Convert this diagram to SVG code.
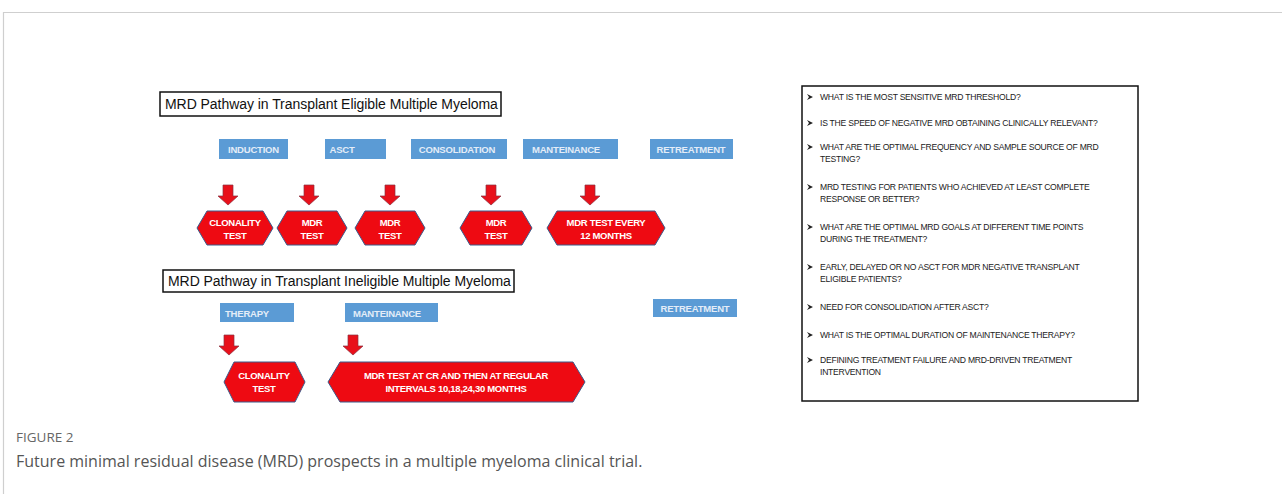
<svg xmlns="http://www.w3.org/2000/svg" width="1282" height="494" viewBox="0 0 1282 494">
<defs>
<style>
.frame{fill:none;stroke:#cfcfcf;stroke-width:1.2}
.title{fill:#fff;stroke:#111;stroke-width:1.5}
.titletext{font-family:"Liberation Sans",Arial,sans-serif;font-size:14px;fill:#111;letter-spacing:-0.05px}
.phase{fill:#5b9bd5}
.phasetext{font-family:"Liberation Sans",Arial,sans-serif;font-size:9.5px;font-weight:bold;fill:#e4edf8;text-anchor:middle;letter-spacing:-0.2px}
.hex{fill:#ee0a12;stroke:#3c5a8a;stroke-width:1}
.hextext{font-family:"Liberation Sans",Arial,sans-serif;font-size:9.5px;font-weight:bold;fill:#fff;text-anchor:middle;letter-spacing:-0.3px}
.arrow{fill:#e8101a;stroke:#8a3040;stroke-width:0.7}
.qbox{fill:#fff;stroke:#111;stroke-width:1.5}
.q{font-family:"Liberation Sans",Arial,sans-serif;font-size:8.6px;fill:#222;letter-spacing:-0.25px}
.bul{fill:#222}
.caplabel{font-family:"Open Sans","Liberation Sans",sans-serif;font-size:13.5px;fill:#666}
.cap{font-family:"Open Sans","Liberation Sans",sans-serif;font-size:16px;fill:#555}
</style>
<path id="arr" d="M-5,0 H5 V11 H10 L0,20 L-10,11 H-5 Z"/>
<path id="bullet" d="M0,-3 L6,0 L0,3 L2,0 Z"/>
</defs>
<rect width="1282" height="494" fill="#fff"/>
<path class="frame" d="M3.5,494 V12.5 H1282"/>

<g id="title-eligible">
<rect class="title" x="160" y="92" width="341" height="24"/>
<text class="titletext" x="165" y="109">MRD Pathway in Transplant Eligible Multiple Myeloma</text>
</g>
<g id="phase-induction"><rect class="phase" x="219" y="139" width="69" height="20"/><text class="phasetext" x="253.5" y="153">INDUCTION</text></g>
<g id="phase-asct"><rect class="phase" x="325" y="139" width="61" height="20"/><text class="phasetext" x="342" y="153">ASCT</text></g>
<g id="phase-consolidation"><rect class="phase" x="411" y="139" width="96" height="20"/><text class="phasetext" x="457" y="153">CONSOLIDATION</text></g>
<g id="phase-manteinance-1"><rect class="phase" x="523" y="139" width="95" height="20"/><text class="phasetext" x="566" y="153">MANTEINANCE</text></g>
<g id="phase-retreatment-1"><rect class="phase" x="650" y="139" width="83" height="20"/><text class="phasetext" x="691" y="153">RETREATMENT</text></g>

<g id="connectors">
<use href="#arr" class="arrow" x="228" y="185"/>
<use href="#arr" class="arrow" x="309" y="185"/>
<use href="#arr" class="arrow" x="390" y="185"/>
<use href="#arr" class="arrow" x="491" y="185"/>
<use href="#arr" class="arrow" x="590" y="185"/>
<use href="#arr" class="arrow" x="229" y="335"/>
<use href="#arr" class="arrow" x="353" y="335"/>
</g>

<g id="test-clonality-1"><path class="hex" d="M207,211 H263 L273,228 L263,245 H207 L197,228 Z"/><text class="hextext" x="235" y="226">CLONALITY</text><text class="hextext" x="235" y="239">TEST</text></g>
<g id="test-mdr-1"><path class="hex" d="M287,211 H337 L347,228 L337,245 H287 L277,228 Z"/><text class="hextext" x="312" y="226">MDR</text><text class="hextext" x="312" y="239">TEST</text></g>
<g id="test-mdr-2"><path class="hex" d="M365,211 H415 L425,228 L415,245 H365 L355,228 Z"/><text class="hextext" x="390" y="226">MDR</text><text class="hextext" x="390" y="239">TEST</text></g>
<g id="test-mdr-3"><path class="hex" d="M470,211 H522 L532,228 L522,245 H470 L460,228 Z"/><text class="hextext" x="496" y="226">MDR</text><text class="hextext" x="496" y="239">TEST</text></g>
<g id="test-mdr-every"><path class="hex" d="M557,211 H655 L665,228 L655,245 H557 L547,228 Z"/><text class="hextext" x="606" y="226">MDR TEST EVERY</text><text class="hextext" x="606" y="239">12 MONTHS</text></g>

<g id="title-ineligible">
<rect class="title" x="163" y="270" width="351" height="22"/>
<text class="titletext" x="168" y="286">MRD Pathway in Transplant Ineligible Multiple Myeloma</text>
</g>
<g id="phase-therapy"><rect class="phase" x="220" y="303" width="74" height="19"/><text class="phasetext" x="247" y="316.5">THERAPY</text></g>
<g id="phase-manteinance-2"><rect class="phase" x="345" y="303" width="93" height="19"/><text class="phasetext" x="387" y="316.5">MANTEINANCE</text></g>
<g id="phase-retreatment-2"><rect class="phase" x="653" y="299" width="84" height="18"/><text class="phasetext" x="695" y="312">RETREATMENT</text></g>

<g id="test-clonality-2"><path class="hex" d="M234,362 H295 L305,382 L295,402 H234 L224,382 Z"/><text class="hextext" x="264" y="379">CLONALITY</text><text class="hextext" x="264" y="392">TEST</text></g>
<g id="test-mdr-regular"><path class="hex" d="M340,362 H573 L585,382 L573,402 H340 L328,382 Z"/><text class="hextext" x="456" y="379">MDR TEST AT CR AND THEN AT REGULAR</text><text class="hextext" x="456" y="392">INTERVALS 10,18,24,30 MONTHS</text></g>

<g id="questions">
<rect class="qbox" x="802" y="86" width="336" height="315"/>
<use href="#bullet" class="bul" x="807" y="97"/><text class="q" x="820" y="100">WHAT IS THE MOST SENSITIVE MRD THRESHOLD?</text>
<use href="#bullet" class="bul" x="807" y="123"/><text class="q" x="820" y="126">IS THE SPEED OF NEGATIVE MRD OBTAINING CLINICALLY RELEVANT?</text>
<use href="#bullet" class="bul" x="807" y="147"/><text class="q" x="820" y="150">WHAT ARE THE OPTIMAL FREQUENCY AND SAMPLE SOURCE OF MRD</text><text class="q" x="820" y="162">TESTING?</text>
<use href="#bullet" class="bul" x="807" y="187"/><text class="q" x="820" y="190">MRD TESTING FOR PATIENTS WHO ACHIEVED AT LEAST COMPLETE</text><text class="q" x="820" y="202">RESPONSE OR BETTER?</text>
<use href="#bullet" class="bul" x="807" y="227"/><text class="q" x="820" y="230">WHAT ARE THE OPTIMAL MRD GOALS AT DIFFERENT TIME POINTS</text><text class="q" x="820" y="242">DURING THE TREATMENT?</text>
<use href="#bullet" class="bul" x="807" y="267"/><text class="q" x="820" y="270">EARLY, DELAYED OR NO ASCT FOR MDR NEGATIVE TRANSPLANT</text><text class="q" x="820" y="282">ELIGIBLE PATIENTS?</text>
<use href="#bullet" class="bul" x="807" y="307"/><text class="q" x="820" y="310">NEED FOR CONSOLIDATION AFTER ASCT?</text>
<use href="#bullet" class="bul" x="807" y="335"/><text class="q" x="820" y="338">WHAT IS THE OPTIMAL DURATION OF MAINTENANCE THERAPY?</text>
<use href="#bullet" class="bul" x="807" y="360"/><text class="q" x="820" y="363">DEFINING TREATMENT FAILURE AND MRD-DRIVEN TREATMENT</text><text class="q" x="820" y="375">INTERVENTION</text>
</g>

<g id="caption">
<text class="caplabel" x="16" y="442">FIGURE 2</text>
<text class="cap" x="16" y="467">Future minimal residual disease (MRD) prospects in a multiple myeloma clinical trial.</text>
</g>
</svg>
